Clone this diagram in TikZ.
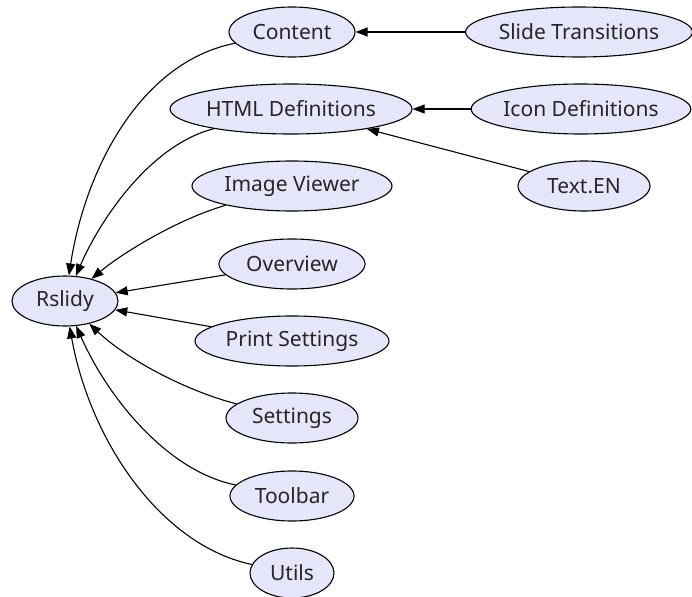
\documentclass[tikz,border=0pt]{standalone}
\usepackage{fontspec}
\setmainfont{Noto Sans}
\usetikzlibrary{shapes.geometric,arrows.meta}
\tikzset{
  module/.style={ellipse, draw=black, line width=1.1pt, fill=lavender, inner sep=0pt,
    minimum height=50pt, font=\fontsize{21}{24}\selectfont, text=black!85},
  dep/.style={draw=black, line width=1.1pt, -{Triangle[length=12pt,width=9pt]}},
}
\definecolor{lavender}{HTML}{E6E6FA}
\begin{document}
\begin{tikzpicture}[x=1pt,y=-1pt]
  \useasboundingbox (0,0) rectangle (692,596);
  % modules
  \node[module, minimum width=106pt] (rslidy)  at (65,301)  {Rslidy};
  \node[module, minimum width=126pt] (content) at (292,32)  {Content};
  \node[module, minimum width=226pt] (slide)   at (579,32)  {Slide Transitions};
  \node[module, minimum width=242pt] (html)    at (291,109) {HTML Definitions};
  \node[module, minimum width=216pt] (icon)    at (581,109) {Icon Definitions};
  \node[module, minimum width=132pt] (text)    at (584,186) {Text.EN};
  \node[module, minimum width=200pt] (image)   at (292,186) {Image Viewer};
  \node[module, minimum width=146pt] (over)    at (292,264) {Overview};
  \node[module, minimum width=194pt] (print)   at (292,341) {Print Settings};
  \node[module, minimum width=132pt] (set)     at (292,418) {Settings};
  \node[module, minimum width=124pt] (tool)    at (292,496) {Toolbar};
  \node[module, minimum width=84pt]  (utils)   at (292,573) {Utils};
  % dependencies
  \draw[dep] (slide) -- (content);
  \draw[dep] (icon) -- (html);
  \draw[dep] (text) -- (html);
  \draw[dep] (content) .. controls (140,62) and (85,170) .. (rslidy);
  \draw[dep] (html) .. controls (150,145) and (100,220) .. (rslidy);
  \draw[dep] (image) .. controls (175,220) and (120,255) .. (rslidy);
  \draw[dep] (over) -- (rslidy);
  \draw[dep] (print) -- (rslidy);
  \draw[dep] (set) .. controls (190,392) and (130,362) .. (rslidy);
  \draw[dep] (tool) .. controls (170,472) and (110,402) .. (rslidy);
  \draw[dep] (utils) .. controls (160,545) and (90,440) .. (rslidy);
\end{tikzpicture}
\end{document}
